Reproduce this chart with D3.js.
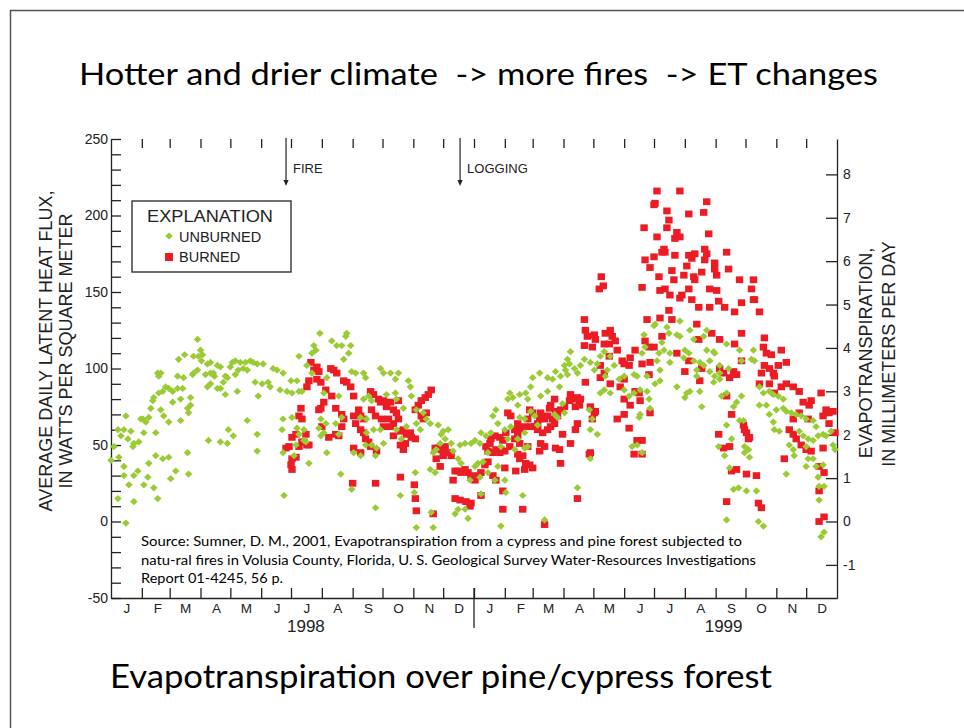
<!DOCTYPE html>
<html><head><meta charset="utf-8">
<script src="https://cdn.jsdelivr.net/npm/d3@7/dist/d3.min.js"></script>
<style>
html,body{margin:0;padding:0;background:#fff;}
svg{display:block;}
</style></head>
<body>
<svg id="chart" width="964" height="728"></svg>
<script>
// ---------------- data ----------------
const titleText = "Hotter and drier climate  -> more fires  -> ET changes";
const captionText = "Evapotranspiration over pine/cypress forest";
const sourceLines = [
  "Source: Sumner, D. M., 2001, Evapotranspiration from a cypress and pine forest subjected to",
  "natu-ral fires in Volusia County, Florida, U. S. Geological Survey Water-Resources Investigations",
  "Report 01-4245, 56 p."
];
const monthLabels = ["J","F","M","A","M","J","J","A","S","O","N","D"];
const yearLabels = ["1998","1999"];
const yearLabelDates = ["1998-07-16","1999-09-09"];
const leftTickValues = [-50,-40,-30,-20,-10,0,10,20,30,40,50,60,70,80,90,100,110,120,130,140,150,160,170,180,190,200,210,220,230,240,250];
const leftLabelValues = [-50,0,50,100,150,200,250];
const rightTickValues = [-1,0,1,2,3,4,5,6,7,8];
const eventLabels = ["FIRE","LOGGING"];
const eventDates = ["1998-06-26","1998-12-18"];
const legendLabels = ["UNBURNED","BURNED"];
const wattsPerMm = 28.36;

// [day since 1998-01-01, latent heat flux W/m2]
const unburned1998 = [
[0,40],[3,49],[7,60],[7,15],[8,42],[10,56],[13,60],[13,36],[13,30],[15,69],[15,-1],[17,54],[18,24],[20,59],[22,49],[23,51],[23,30],[23,13],[27,33],[28,52],[30,67],[32,67],[33,58],[33,24],[35,65],[37,29],[38,68],[38,38],[40,74],[42,79],[43,81],[43,22],[45,58],[45,43],[47,97],[47,15],[48,95],[48,84],[50,97],[50,73],[52,85],[52,41],[53,69],[55,88],[58,87],[58,65],[58,42],[60,28],[62,85],[62,78],[65,33],[67,95],[67,87],[68,106],[70,80],[70,66],[72,87],[73,94],[74,109],[77,74],[77,45],[78,71],[78,31],[80,81],[80,76],[82,96],[83,108],[83,97],[87,119],[87,99],[88,108],[90,112],[91,105],[92,109],[95,96],[97,103],[97,88],[98,53],[100,104],[100,97],[100,90],[103,97],[104,95],[107,102],[107,87],[110,101],[110,87],[110,52],[113,91],[115,95],[115,83],[117,94],[117,51],[118,60],[120,101],[122,104],[123,56],[125,105],[125,96],[127,85],[128,99],[130,104],[133,100],[135,104],[137,99],[137,66],[140,105],[143,104],[145,91],[147,103],[147,57],[147,46],[148,82],[152,90],[153,103],[158,91],[160,88],[163,100],[167,99],[170,86],[172,60],[173,97],[173,67],[173,45],
[174,17],[177,85],[181,92],[182,84],[182,68],[184,43],[186,50],[187,92],[187,61],[189,108],[189,85],[189,57],[192,85],[194,60],[194,53],[196,52],[197,102],[199,38],[202,110],[202,97],[204,115],[206,112],[209,61],[210,123],[211,67],[211,56],[214,84],[214,58],[216,64],[217,94],[217,45],[222,118],[226,64],[227,115],[229,82],[229,57],[231,31],[232,115],[232,68],[234,106],[236,121],[237,123],[239,110],[241,115],[242,98],[242,21],[244,45],[246,97],[251,68],[251,43],[254,97],[254,80],[256,94],[256,50],[257,67],[257,58],[259,82],[262,79],[262,50],[264,60],[266,43],[266,9],[267,48],[271,100],[271,60],[274,97],[274,51],[277,83],[281,97],[286,93],[286,84],[287,80],[287,60],[289,97],[291,17],[292,54],[294,74],[297,62],[299,92],[301,88],[302,82],[305,19],[306,32],[307,73],[307,64],[307,-4],[311,60],[314,71],[317,67],[321,64],[321,34],[322,6],[324,45],[324,-4],[326,32],[327,47],
[329,63],[331,51],[332,57],[334,59],[336,54],[339,60],[342,51],[344,46],[346,5],[349,41],[349,8],[351,50],[352,38],[356,51],[356,8],[359,2],[361,27],[362,51]
];
const unburned1999 = [
[366,53],[366,36],[369,38],[371,51],[371,29],[372,58],[372,18],[374,39],[377,56],[379,45],[379,32],[382,58],[384,69],[386,27],[387,73],[389,64],[389,36],[392,49],[392,-3],[396,60],[396,27],[397,19],[399,80],[399,54],[401,84],[402,62],[404,81],[406,47],[409,76],[409,54],[411,83],[411,68],[414,17],[416,67],[416,58],[416,48],[417,84],[419,80],[419,49],[422,88],[422,72],[424,94],[426,69],[429,63],[431,97],[432,82],[436,1],[439,94],[439,85],[444,93],[446,70],[447,98],[449,68],[451,88],[452,95],[454,77],[456,102],[456,71],[457,99],[459,106],[459,96],[461,103],[462,111],[466,100],[469,97],[469,22],[472,102],[476,106],[481,73],[482,104],[482,60],[482,41],[484,67],[486,99],[489,103],[489,57],[492,108],[492,84],[496,111],[496,86],[497,95],[499,99],[502,108],[502,84],[506,102],[511,93],[516,95],[516,86],[521,82],[524,49],
[529,50],[534,45],
[534,110],[536,122],[537,114],[546,128],[547,129],[549,105],[551,110],[554,117],[556,112],[559,127],[561,123],[562,110],[562,104],[569,122],[572,131],[572,121],[576,107],[577,112],[581,110],[582,125],[586,119],[586,105],[589,99],[592,104],[596,121],[599,125],[599,112],[602,105],[602,98],[606,111],[607,110],[607,95],[612,102],[612,97],[619,116],[621,100],[632,112],[634,105],[644,106],[646,112],[647,105],[539,95],[552,99],
[526,96],[529,95],[526,84],[532,86],[539,85],[541,80],[542,74],[531,68],[532,70],[547,90],[552,92],[569,88],[579,84],[582,85],[577,81],[592,85],[594,75],[589,95],[596,102],[606,91],[612,93],[614,82],[619,84],[626,75],[629,78],[634,82],[632,66],[636,66],[619,63],[624,54],[617,43],[611,49],[637,49],[641,47],[637,45],[642,42],[622,35],[626,21],[631,22],[639,20],[649,20],[619,1],[651,0],[656,-3],[652,88],[656,84],[662,85],[666,83],[671,82],[676,80],[659,76],[652,76],[662,70],[669,73],[676,74],[679,72],[684,71],[689,70],[694,69],[699,67],[706,66],[709,62],[666,65],[667,60],[672,59],[682,50],[686,47],[687,43],[692,59],[696,56],[701,54],[706,53],[711,56],[716,57],[719,56],[699,49],[701,41],[706,41],[709,36],[699,36],[716,37],[679,31],[711,29],[712,23],[717,23],[712,14],[717,-7],[714,-10],[724,59],[726,50],[728,47]
];
const burned1998 = [
[176,48],[179,49],[181,37],[182,34],[182,41],[182,55],[186,42],[186,57],[189,49],[189,69],[191,74],[192,52],[192,67],[194,52],[196,57],[197,50],[199,50],[197,88],[199,92],
[201,104],[204,99],[207,101],[209,98],[207,93],[211,91],[221,100],[224,99],[227,97],[234,92],[237,91],[241,88],[244,82],[216,86],[222,82],[211,74],[209,73],[226,74],[232,70],[234,67],[214,78],[249,73],[251,69],[254,67],[261,85],[264,83],[269,80],[271,78],[274,79],[277,75],[281,78],[284,73],[287,71],[289,79],[262,73],[266,69],[272,67],[274,62],[279,67],[281,62],[284,64],[289,67],[244,69],[246,64],[251,60],[254,58],[256,54],[259,52],[261,49],[212,62],[219,55],[226,57],[229,56],[232,62],[244,48],[251,45],[267,46],[284,56],[291,59],[294,60],[297,57],[301,58],[302,55],[306,54],[294,47],[291,50],[296,51],[306,73],[309,76],[312,79],[316,81],[319,83],[322,86],[312,69],[314,67],[317,71],[326,48],[327,41],[243,25],[266,25],[291,29],[305,24],[306,15],[307,7],[324,5],
[329,48],[331,36],[332,47],[334,43],[336,49],[339,45],[342,43],[344,27],[346,33],[346,15],[349,33],[351,14],[352,32],[356,34],[357,13],[359,32],[361,10],[362,30],[362,12]
];
const burned1999 = [
[366,27],[369,30],[372,32],[372,17],[376,37],[377,49],[379,39],[379,46],[381,51],[382,54],[384,45],[384,30],[386,56],[387,47],[387,27],[391,55],[391,45],[392,47],[394,53],[394,20],[394,8],[396,46],[396,35],[397,58],[399,71],[401,49],[402,69],[406,60],[406,54],[407,33],[409,64],[409,56],[409,44],[411,51],[411,41],[412,60],[414,43],[414,8],[416,62],[416,34],[417,38],[419,67],[419,49],[421,73],[421,37],[422,62],[424,71],[424,35],[426,62],[429,64],[429,60],[431,67],[431,46],[432,71],[432,51],[434,58],[436,67],[436,49],[436,-2],[439,69],[439,60],[441,74],[442,76],[442,62],[444,67],[446,80],[446,64],[447,72],[447,48],[449,69],[451,47],[452,73],[452,38],[454,57],[456,75],[461,79],[462,83],[462,51],[466,80],[467,75],[467,60],[469,81],[469,64],[469,15],[471,76],[472,80],[476,132],[476,115],[477,125],[477,91],[479,121],[481,44],[482,75],[482,45],[484,67],[484,114],[486,122],[486,71],[487,119],[487,72],[492,102],[492,94],[491,152],[493,160],[495,154],[496,116],[496,97],[497,123],[501,116],[501,108],[502,125],[502,90],[504,121],[507,118],[509,112],[509,67],[512,88],[514,105],[516,103],[516,93],[516,80],[516,70],[521,102],[521,61],[522,107],[522,76],
[536,192],[537,171],[534,153],[539,132],[537,118],[527,112],[546,207],[547,208],[549,216],[572,216],[559,203],[561,197],[581,201],[596,202],[599,209],[559,192],[549,186],[569,189],[567,185],[572,186],[601,188],[556,178],[554,176],[557,176],[546,173],[567,174],[581,174],[584,172],[587,175],[597,178],[599,175],[597,171],[619,176],[542,166],[564,164],[579,167],[594,163],[607,169],[607,165],[609,161],[621,165],[551,160],[566,158],[576,161],[586,160],[587,158],[632,158],[646,158],[552,151],[557,152],[562,148],[572,146],[574,148],[581,152],[602,152],[609,151],[644,152],[646,145],[647,145],[584,145],[591,140],[602,140],[611,144],[617,140],[627,137],[634,143],[652,137],[561,138],[552,133],[564,132],[589,129],[554,121],[591,119],[604,123],[612,119],[627,116],[634,123],[657,120],[541,114],[546,114],[569,110],[656,114],[659,110],[664,109],[674,112],[581,105],
[526,44],[527,85],[529,53],[531,84],[532,79],[534,103],[534,53],[534,44],[541,96],[542,104],[542,71],[577,98],[592,92],[594,100],[611,57],[612,100],[616,97],[616,48],[619,82],[619,13],[622,94],[622,49],[624,70],[624,33],[626,98],[629,96],[629,34],[634,105],[636,63],[637,60],[639,58],[639,31],[641,54],[642,55],[649,30],[651,12],[652,90],[654,97],[654,9],[657,102],[662,100],[662,90],[666,97],[667,95],[667,84],[671,102],[674,88],[677,41],[679,104],[679,90],[682,60],[686,88],[686,67],[686,57],[689,54],[692,85],[692,71],[694,50],[696,78],[699,47],[701,67],[702,76],[704,79],[704,46],[712,36],[712,20],[712,0],[714,84],[716,69],[716,48],[717,32],[717,3],[719,73],[722,71],[722,64],[726,72],[728,58]
];

// ---------------- drawing ----------------
const W = 964, H = 728;
const green = "#9acb34", red = "#ec1c24", ink = "#222";
const chartFont = "'Liberation Sans', Arial, Helvetica, sans-serif";
const slideFont = "Lato, 'Open Sans', sans-serif";
const plot = {left: 111, right: 837, top: 139, bottom: 598};

const start = new Date(1998, 0, 1), end = new Date(2000, 0, 1);
const toDate = d => d3.timeDay.offset(start, d);
const parse = d3.timeParse("%Y-%m-%d");

const x = d3.scaleTime().domain([start, end]).range([plot.left, plot.right]);
const y = d3.scaleLinear().domain([-50, 250]).range([plot.bottom, plot.top]);
const yET = d3.scaleLinear().domain([-50 / wattsPerMm, 250 / wattsPerMm]).range([plot.bottom, plot.top]);

const svg = d3.select("#chart");
svg.append("rect").attr("width", W).attr("height", H).attr("fill", "#fff");

// slide frame
svg.append("path").attr("d", "M10.5,728V10.5H964").attr("fill", "none")
  .attr("stroke", "#555").attr("stroke-width", 1.5);

// title
svg.append("text").attr("x", 79).attr("y", 85)
  .attr("font-family", slideFont).attr("font-size", 30).attr("fill", "#000")
  .attr("textLength", 799).attr("lengthAdjust", "spacingAndGlyphs")
  .attr("xml:space", "preserve").style("white-space", "pre")
  .text(titleText);

// caption
svg.append("text").attr("x", 110).attr("y", 688)
  .attr("font-family", slideFont).attr("font-size", 32).attr("fill", "#000")
  .attr("textLength", 662).attr("lengthAdjust", "spacingAndGlyphs")
  .text(captionText);

const months = d3.timeMonth.range(d3.timeMonth.offset(start, 1), end);

// top ticks (no line)
const topAxis = svg.append("g").attr("transform", `translate(0,${plot.top})`)
  .call(d3.axisTop(x).tickValues(months).tickSize(-9).tickSizeOuter(0).tickFormat(""));
topAxis.select(".domain").remove();

// bottom axis
const bottomAxis = svg.append("g").attr("transform", `translate(0,${plot.bottom})`)
  .call(d3.axisBottom(x).tickValues(months).tickSize(-10).tickSizeOuter(0).tickFormat(""));

// year divider
const yearStart = new Date(1999, 0, 1);
svg.append("line").attr("x1", x(yearStart)).attr("x2", x(yearStart))
  .attr("y1", plot.bottom - 10).attr("y2", plot.bottom + 30)
  .attr("stroke", ink).attr("stroke-width", 1.3);

// month labels
const monthMid = [];
[1998, 1999].forEach(yr => monthLabels.forEach((m, i) => monthMid.push({label: m, date: new Date(yr, i, 15)})));
svg.append("g").selectAll("text").data(monthMid).join("text")
  .attr("x", d => x(d.date) + 2).attr("y", plot.bottom + 15)
  .attr("text-anchor", "middle").attr("font-family", chartFont).attr("font-size", 13.5).attr("fill", ink)
  .text(d => d.label);

svg.append("g").selectAll("text").data(yearLabels).join("text")
  .attr("x", (d, i) => x(parse(yearLabelDates[i]))).attr("y", plot.bottom + 34)
  .attr("text-anchor", "middle").attr("font-family", chartFont).attr("font-size", 17).attr("fill", ink)
  .text(d => d);

// left axis
const leftAxis = svg.append("g").attr("transform", `translate(${plot.left},0)`)
  .call(d3.axisLeft(y).tickValues(leftTickValues).tickSize(-10).tickSizeOuter(0).tickPadding(3)
    .tickFormat(v => leftLabelValues.includes(v) ? String(v) : ""));

// right axis
const rightAxis = svg.append("g").attr("transform", `translate(${plot.right},0)`)
  .call(d3.axisRight(yET).tickValues(rightTickValues).tickSize(-11).tickSizeOuter(0).tickPadding(6)
    .tickFormat(v => String(v)));

[topAxis, bottomAxis, leftAxis, rightAxis].forEach(g => {
  g.selectAll("path,line").attr("stroke", ink).attr("stroke-width", 1.3);
  g.selectAll("text").attr("font-family", chartFont).attr("font-size", 14).attr("fill", ink);
});

// axis titles
const leftTitle = svg.append("g").attr("font-family", chartFont).attr("font-size", 18).attr("fill", ink).attr("text-anchor", "middle");
leftTitle.append("text").attr("transform", "translate(52,351) rotate(-90)").text("AVERAGE DAILY LATENT HEAT FLUX,");
leftTitle.append("text").attr("transform", "translate(72,351) rotate(-90)").text("IN WATTS PER SQUARE METER");
const rightTitle = svg.append("g").attr("font-family", chartFont).attr("font-size", 18).attr("fill", ink).attr("text-anchor", "middle");
rightTitle.append("text").attr("transform", "translate(872,353) rotate(-90)").text("EVAPOTRANSPIRATION,");
rightTitle.append("text").attr("transform", "translate(895,354) rotate(-90)").text("IN MILLIMETERS PER DAY");

// event arrows
const ev = svg.append("g").selectAll("g").data(eventLabels).join("g")
  .attr("transform", (d, i) => `translate(${x(parse(eventDates[i]))},0)`);
ev.append("line").attr("x1", 0).attr("x2", 0).attr("y1", plot.top - 1).attr("y2", 181)
  .attr("stroke", ink).attr("stroke-width", 1.2);
ev.append("path").attr("d", "M-2.6,180L2.6,180L0,186Z").attr("fill", ink);
ev.append("text").attr("x", 7).attr("y", 173).attr("font-family", chartFont).attr("font-size", 13).attr("fill", ink)
  .text(d => d);

// points
const diamond = "M0,-3.6L3.8,0L0,3.6L-3.8,0Z";
svg.append("g").selectAll("rect").data(burned1998.concat(burned1999)).join("rect")
  .attr("x", d => x(toDate(d[0])) - 3.7).attr("y", d => y(d[1]) - 3.4)
  .attr("width", 7.4).attr("height", 6.8).attr("fill", red);
svg.append("g").selectAll("path").data(unburned1998.concat(unburned1999)).join("path")
  .attr("d", diamond)
  .attr("transform", d => `translate(${x(toDate(d[0]))},${y(d[1])})`)
  .attr("fill", green);

// legend
const lg = svg.append("g");
lg.append("rect").attr("x", 132).attr("y", 201).attr("width", 159).attr("height", 71)
  .attr("fill", "#fff").attr("stroke", "#333").attr("stroke-width", 1.4);
lg.append("text").attr("x", 147).attr("y", 222).attr("font-family", chartFont).attr("font-size", 17)
  .attr("textLength", 126).attr("lengthAdjust", "spacingAndGlyphs").attr("fill", ink).text("EXPLANATION");
lg.append("path").attr("d", diamond).attr("transform", "translate(169,236)").attr("fill", green);
lg.append("rect").attr("x", 165).attr("y", 253).attr("width", 8).attr("height", 8).attr("fill", red);
lg.selectAll("text.item").data(legendLabels).join("text").attr("class", "item")
  .attr("x", 179).attr("y", (d, i) => 242 + i * 20)
  .attr("font-family", chartFont).attr("font-size", 14.5).attr("fill", ink).text(d => d);

// source note
svg.append("g").selectAll("text").data(sourceLines).join("text")
  .attr("x", 141).attr("y", (d, i) => [545.5, 564.5, 583.3][i])
  .attr("font-family", slideFont).attr("font-size", 14).attr("fill", "#000")
  .attr("textLength", (d, i) => [601, 615, 142][i]).attr("lengthAdjust", "spacingAndGlyphs")
  .text(d => d);
</script>
</body></html>
